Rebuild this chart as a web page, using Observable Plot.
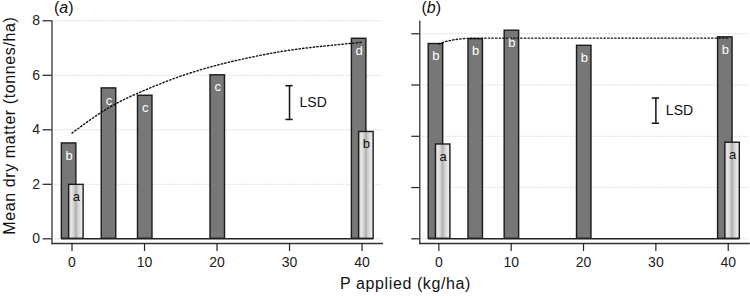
<!DOCTYPE html>
<html><head><meta charset="utf-8">
<script src="https://cdn.jsdelivr.net/npm/d3@7"></script>
<script src="https://cdn.jsdelivr.net/npm/@observablehq/plot@0.6"></script>
<style>
body{margin:0;background:#fff;}
#wrap{position:relative;width:750px;height:296px;font-family:"Liberation Sans",Arial,sans-serif;color:#111;background:#fff;overflow:hidden;}
#wrap svg{position:absolute;top:0;}
.lbl{position:absolute;font-size:16px;line-height:16px;white-space:nowrap;}
.ytitle{letter-spacing:0.6px;}
</style></head><body>
<div id="wrap"></div>
<script>
// ---------- data ----------
const rates = [0, 5, 10, 20, 40];          // P applied (kg/ha), dark bars
const lightRates = [0, 40];                // rates with light bars
const xTicks = [0, 10, 20, 30, 40];
const yTicks = [0, 2, 4, 6, 8];

// panel (a)
const darkA = [3.5, 5.52, 5.25, 6.0, 7.34];
const darkLettersA = ["b", "c", "c", "c", "d"];
const lightA = [1.98, 3.92];
const lightLettersA = ["a", "b"];
const curveXA = [0, 5, 10, 15, 20, 25, 30, 35, 40];
const curveYA = [3.88, 4.80, 5.45, 5.97, 6.37, 6.68, 6.92, 7.08, 7.21];
const lsdA = 1.24;

// panel (b)
const darkB = [7.60, 7.79, 8.12, 7.53, 7.86];
const darkLettersB = ["b", "b", "b", "b", "b"];
const lightB = [3.68, 3.75];
const lightLettersB = ["a", "a"];
const curveXB = [0, 1, 2, 3, 4, 5, 10, 20, 30, 40];
const curveYB = [7.60, 7.70, 7.76, 7.80, 7.82, 7.83, 7.83, 7.83, 7.83, 7.83];
const lsdB = 0.98;

const lsdX = 30, lsdCenter = 5;

// ---------- drawing ----------
const FONT = "'Liberation Sans', Arial, Helvetica, sans-serif";

function panel(o) {
  const half = 1; // half bar width in kg/ha units
  const dark = rates.map((r, i) => {
    const paired = lightRates.includes(r);
    const c = r + (paired ? -0.4 : 0.1);
    return {x1: c - half, x2: c + half, xc: c, v: o.dark[i], t: o.darkLetters[i]};
  });
  const light = lightRates.map((r, i) => {
    const c = r + 0.6;
    return {x1: c - half, x2: c + half, xc: c, v: o.light[i], t: o.lightLetters[i]};
  });
  const all = dark.concat(light);
  const left = d3.min(all, d => d.x1), right = d3.max(all, d => d.x2);
  const curve = o.curveX.map((x, i) => ({x, y: o.curveY[i]}));
  const gid = "grad" + o.id;

  const marks = [
    Plot.ruleY(yTicks, {stroke: "#c6c6e8", strokeWidth: 1, strokeDasharray: "1.2,1.8"}),
    Plot.frame({anchor: "left", stroke: "#333", strokeWidth: 1.3}),
    Plot.frame({anchor: "bottom", stroke: "#333", strokeWidth: 1.3}),
    Plot.axisY({ticks: yTicks, tickSize: o.yTickSize, tickPadding: 3, strokeWidth: 1.2,
      tickFormat: o.yLabels ? (d => String(d)) : (() => ""), label: null}),
    Plot.axisX({ticks: xTicks, tickSize: 8, tickPadding: 6, strokeWidth: 1.2, label: null}),
    Plot.rectY(dark, {x1: "x1", x2: "x2", y1: 0, y2: "v", fill: "#777", stroke: "#1a1a1a", strokeWidth: 1.4}),
    Plot.rectY(light, {x1: "x1", x2: "x2", y1: 0, y2: "v", fill: `url(#${gid})`, stroke: "#1a1a1a", strokeWidth: 1.4}),
    Plot.ruleY([0], {x1: left, x2: right, stroke: "#222", strokeWidth: 1.4}),
    Plot.line(curve, {x: "x", y: "y", curve: "natural", stroke: "#111", strokeWidth: 1.4, strokeDasharray: "1.4,2.2"}),
    Plot.text(dark, {x: "xc", y: "v", text: "t", dy: 12, fill: "white", fontSize: 13, lineAnchor: "middle"}),
    Plot.text(light, {x: "xc", y: "v", text: "t", dy: 12, fill: "#111", fontSize: 13, lineAnchor: "middle"}),
    Plot.ruleX([lsdX], {y1: lsdCenter - o.lsd / 2, y2: lsdCenter + o.lsd / 2, stroke: "#111", strokeWidth: 1.5}),
    Plot.ruleY([lsdCenter - o.lsd / 2, lsdCenter + o.lsd / 2], {x1: lsdX - 0.5, x2: lsdX + 0.5, stroke: "#111", strokeWidth: 1.5}),
    Plot.text(["LSD"], {x: lsdX, y: lsdCenter, text: d => d, dx: 10, textAnchor: "start", fontSize: 14, fill: "#111"})
  ];
  if (o.yTitle) {
    marks.push(Plot.text([o.yTitle], {text: d => d, frameAnchor: "left", textAnchor: "middle", lineAnchor: "middle",
      rotate: -90, dx: -42.5, dy: -6.5, fontSize: 16, fill: "#111", className: "ytitle"}));
  }
  const svg = Plot.plot({
    width: o.width, height: 296,
    marginLeft: o.marginLeft, marginRight: o.marginRight, marginTop: o.marginTop, marginBottom: 53,
    x: {domain: o.xDomain},
    y: {domain: o.yDomain},
    style: {fontFamily: FONT, fontSize: "14px", color: "#222", background: "white", overflow: "visible"},
    marks
  });
  const defs = d3.select(svg).insert("defs", ":first-child");
  const g = defs.append("linearGradient").attr("id", gid).attr("x1", "0").attr("x2", "1").attr("y1", "0").attr("y2", "0");
  [[0, "#d4d4d4"], [0.2, "#e6e6e6"], [0.38, "#cdcdcd"], [0.48, "#b4b4b4"], [0.52, "#a6a6a6"],
   [0.58, "#c9c9c9"], [0.8, "#e2e2e2"], [1, "#f2f2f2"]].forEach(([off, c]) =>
    g.append("stop").attr("offset", off).attr("stop-color", c));
  svg.style.left = o.left + "px";
  return svg;
}

const wrap = document.getElementById("wrap");
wrap.appendChild(panel({
  id: "A", left: 0, width: 383, marginLeft: 51.5, marginRight: 0.8, marginTop: 20.3,
  xDomain: [-2.76, 42.85], yDomain: [-0.172, 8], yTickSize: 9, yLabels: true,
  dark: darkA, darkLetters: darkLettersA, light: lightA, lightLetters: lightLettersA,
  curveX: curveXA, curveY: curveYA, lsd: lsdA, yTitle: "Mean dry matter (tonnes/ha)"
}));
wrap.appendChild(panel({
  id: "B", left: 383, width: 367, marginLeft: 36.3, marginRight: 1.3, marginTop: 20.7,
  xDomain: [-2.63, 42.9], yDomain: [-0.183, 8.49], yTickSize: 8, yLabels: false,
  dark: darkB, darkLetters: darkLettersB, light: lightB, lightLetters: lightLettersB,
  curveX: curveXB, curveY: curveYB, lsd: lsdB, yTitle: null
}));

function addLabel(html, left, top, extra) {
  const d = document.createElement("div");
  d.className = "lbl";
  d.innerHTML = html;
  d.style.left = left + "px";
  d.style.top = top + "px";
  if (extra) Object.assign(d.style, extra);
  wrap.appendChild(d);
}
addLabel("(<i>a</i>)", 54, 0);
addLabel("(<i>b</i>)", 421.5, 0);
addLabel("P applied (kg/ha)", 405.5, 275.5, {transform: "translateX(-50%)", letterSpacing: "0.6px"});
</script>
</body></html>
